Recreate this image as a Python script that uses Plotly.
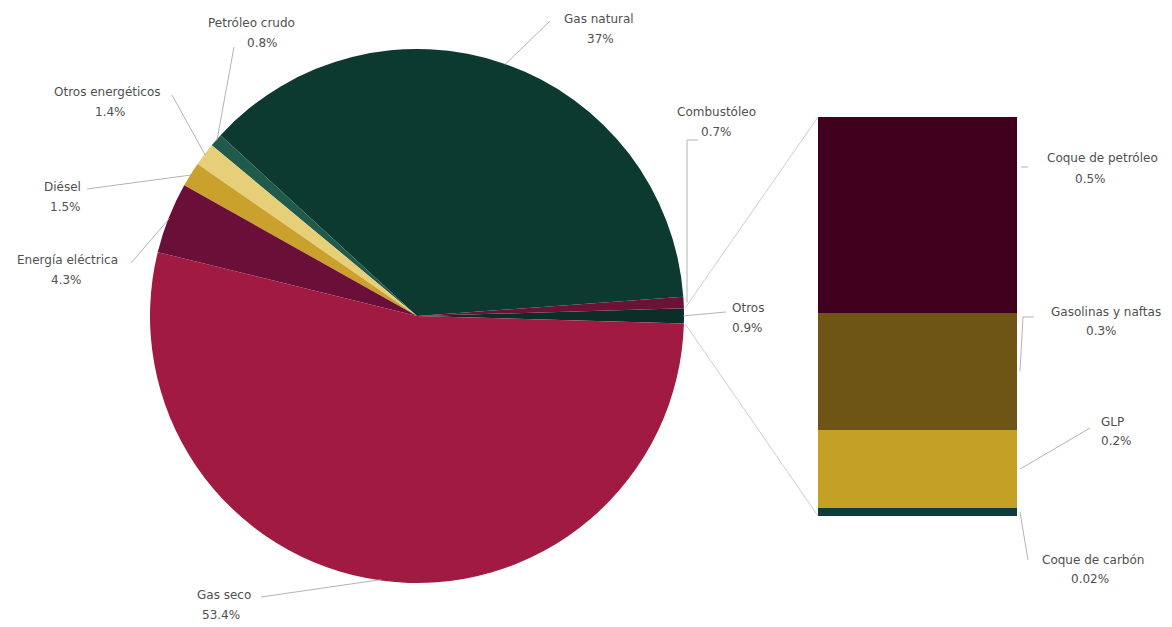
import math
import plotly.graph_objects as go

# Consumo final por energético (%), ordenado en sentido antihorario desde "Otros"
pie_labels = ["Otros", "Combustóleo", "Gas natural", "Petróleo crudo",
              "Otros energéticos", "Diésel", "Energía eléctrica", "Gas seco"]
pie_values = [0.9, 0.7, 37, 0.8, 1.4, 1.5, 4.3, 53.4]
pie_colors = ["#0b2f28", "#6b1236", "#0c3a30", "#1f5a4b",
              "#e6cf78", "#c9a12c", "#6a0f37", "#a11a41"]

# Desglose de "Otros" (de arriba hacia abajo)
bar_labels = ["Coque de petróleo", "Gasolinas y naftas", "GLP", "Coque de carbón"]
bar_values = [0.5, 0.3, 0.2, 0.02]
bar_colors = ["#42001f", "#6e5516", "#c4a025", "#0f3c3c"]

W, H = 1172, 627
CX, CY, R = 417, 316, 267          # pie centre / radius in pixels
START = -1.6                       # math angle where the first slice begins
BAR_X0, BAR_X1, BAR_Y0, BAR_Y1 = 818, 1017, 117, 516

TEXT_COLOR = "#505050"
LEADER = "#a0a0a0"
FONT = "DejaVu Sans"
FSIZE = 12

total = sum(pie_values)
first_deg = pie_values[0] / total * 360
# plotly: counterclockwise pies put the first slice clockwise of `rotation`
ROTATION = 90 - START - first_deg


def px(x, y):
    """pixel -> paper coordinates"""
    return x / W, 1 - y / H


fig = go.Figure()

fig.add_trace(go.Pie(
    labels=pie_labels, values=pie_values, sort=False,
    direction="counterclockwise", rotation=ROTATION,
    marker=dict(colors=pie_colors, line=dict(width=0)),
    textinfo="none", hoverinfo="label+percent",
    domain=dict(x=[(CX - R) / W, (CX + R) / W],
                y=[1 - (CY + R) / H, 1 - (CY - R) / H]),
    showlegend=False,
))

# stacked bar: bottom segment first
for lab, val, col in reversed(list(zip(bar_labels, bar_values, bar_colors))):
    fig.add_trace(go.Bar(
        x=[0], y=[val], width=1, name=lab, marker=dict(color=col, line=dict(width=0)),
        showlegend=False, hoverinfo="name+y",
    ))

total_bar = sum(bar_values)
fig.update_layout(
    width=W, height=H, margin=dict(l=0, r=0, t=0, b=0),
    paper_bgcolor="white", plot_bgcolor="white", barmode="stack", bargap=0,
    font=dict(family=FONT, size=FSIZE, color=TEXT_COLOR),
    xaxis=dict(domain=[BAR_X0 / W, BAR_X1 / W], range=[-0.5, 0.5], visible=False),
    yaxis=dict(domain=[1 - BAR_Y1 / H, 1 - BAR_Y0 / H], range=[0, total_bar], visible=False),
)

# slice edges (math convention, degrees)
edges = [START]
for v in pie_values:
    edges.append(edges[-1] + v / total * 360)


def rim(angle, rr=R):
    a = math.radians(angle)
    return CX + rr * math.cos(a), CY - rr * math.sin(a)


shapes = []
annotations = []


def polyline(points, color=LEADER, width=0.8):
    pts = [px(x, y) for x, y in points]
    path = "M " + " L ".join(f"{x},{y}" for x, y in pts)
    shapes.append(dict(type="path", path=path, xref="paper", yref="paper",
                       line=dict(color=color, width=width)))


def label(name, value, name_xy, value_xy):
    for txt, (x, y) in ((name, name_xy), (f"{value:g}%", value_xy)):
        ax, ay = px(x, y)
        annotations.append(dict(x=ax, y=ay, xref="paper", yref="paper", showarrow=False,
                                text=txt, xanchor="center", yanchor="middle",
                                font=dict(family=FONT, size=FSIZE, color=TEXT_COLOR)))


# name centre, value centre, leader start points (pixels)
pie_label_pos = {
    "Otros": ((748, 308), (748, 328), [(726, 312)]),
    "Combustóleo": ((716, 112), (716, 132), [(698, 140), (687, 140)]),
    "Gas natural": ((599, 19), (600, 39), [(550, 21)]),
    "Petróleo crudo": ((251, 23), (262, 43), [(234, 47)]),
    "Otros energéticos": ((107, 92), (110, 112), [(172, 95)]),
    "Diésel": ((62, 187), (65, 207), [(87, 189)]),
    "Energía eléctrica": ((67, 260), (66, 280), [(131, 263)]),
    "Gas seco": ((224, 595), (221, 615), [(261, 597)]),
}

for i, (lab, val) in enumerate(zip(pie_labels, pie_values)):
    nxy, vxy, lead = pie_label_pos[lab]
    mid = (edges[i] + edges[i + 1]) / 2
    ex, ey = rim(mid, R - 1)
    if lab == "Combustóleo":
        ex = lead[-1][0]
    polyline(lead + [(ex, ey)])
    label(lab, val, nxy, vxy)

# connectors from the "Otros" slice to the bar
o_top = rim(edges[1], R)
o_bot = rim(edges[0], R)
for (sx, sy), by in ((o_top, BAR_Y0), (o_bot, BAR_Y1)):
    polyline([(sx + 1, sy), (BAR_X0, by)], color="#cdcdcd", width=1)

# bar labels
bar_label_pos = {
    "Coque de petróleo": ((1102, 158), (1090, 179), None),
    "Gasolinas y naftas": ((1106, 312), (1101, 331), [(1034, 317), (1023, 317)]),
    "GLP": ((1112, 422), (1116, 441), [(1090, 428)]),
    "Coque de carbón": ((1093, 560), (1090, 579), [(1028, 560)]),
}
tops = []
acc = 0
for v in reversed(bar_values):
    acc += v
    tops.append(acc)
tops = list(reversed(tops))
for lab, val, top in zip(bar_labels, bar_values, tops):
    nxy, vxy, lead = bar_label_pos[lab]
    mid = top - val / 2
    my = BAR_Y1 - (mid / total_bar) * (BAR_Y1 - BAR_Y0)
    if lead is None:
        polyline([(BAR_X1 + 4, 167), (BAR_X1 + 11, 167)])
    else:
        polyline(lead + [(BAR_X1 + 3, my)])
    label(lab, val, nxy, vxy)

fig.update_layout(shapes=shapes, annotations=annotations)
fig.write_html("out.html")
